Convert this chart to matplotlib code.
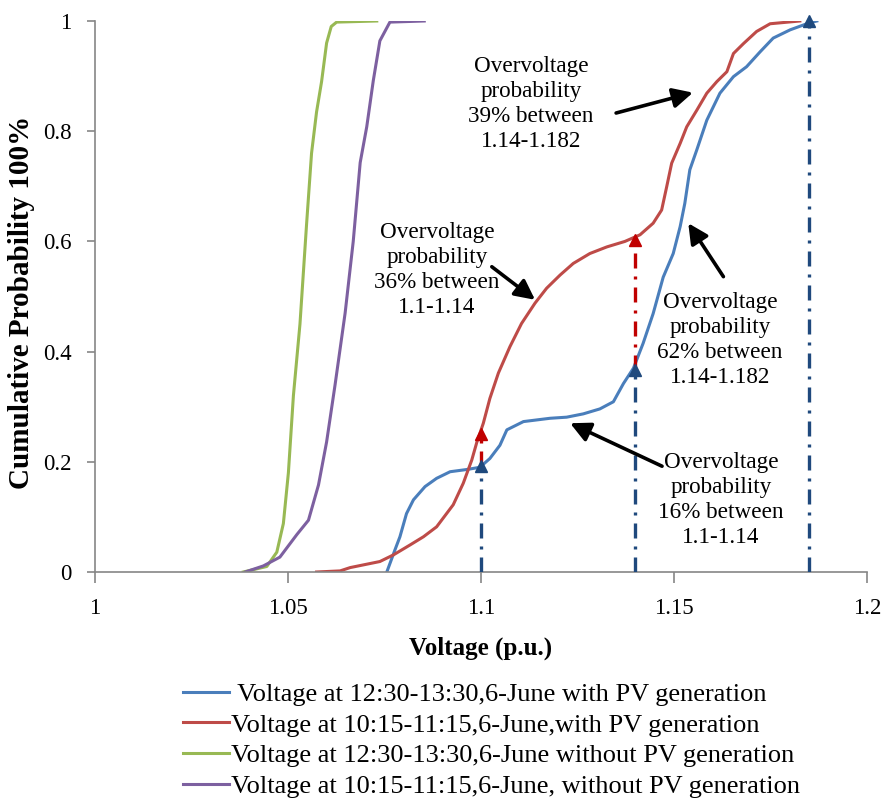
import matplotlib
matplotlib.use("Agg")
import matplotlib.pyplot as plt

plt.rcParams['font.family'] = ['Liberation Serif', 'DejaVu Serif']

# ---------------- data ----------------
blue_v = [1.0756, 1.0777, 1.0790, 1.0807, 1.0825, 1.0855, 1.0885, 1.0920, 1.0963, 1.0997,
          1.1023, 1.1049, 1.1067, 1.1110, 1.1179, 1.1222, 1.1265, 1.1308, 1.1343, 1.1369,
          1.1395, 1.1420, 1.1446, 1.1472, 1.1498, 1.1516, 1.1528, 1.1541, 1.1559, 1.1585,
          1.1619, 1.1654, 1.1688, 1.1723, 1.1757, 1.1801, 1.1852, 1.1870]
blue_p = [0.0, 0.04, 0.064, 0.106, 0.131, 0.155, 0.17, 0.182, 0.186, 0.19,
          0.206, 0.23, 0.258, 0.273, 0.279, 0.281, 0.287, 0.296, 0.309, 0.342,
          0.37, 0.415, 0.469, 0.535, 0.578, 0.627, 0.669, 0.73, 0.766, 0.82,
          0.869, 0.899, 0.917, 0.944, 0.969, 0.984, 0.997, 1.0]

red_v = [1.0574, 1.0635, 1.0661, 1.0738, 1.0773, 1.0816, 1.0851, 1.0885, 1.0928, 1.0954,
         1.0976, 1.0989, 1.1006, 1.1023, 1.1045, 1.1075, 1.1105, 1.1140, 1.1170, 1.1205,
         1.1239, 1.1282, 1.1326, 1.1373, 1.1412, 1.1446, 1.1468, 1.1481, 1.1494, 1.1516,
         1.1533, 1.1559, 1.1585, 1.1611, 1.1637, 1.1654, 1.1680, 1.1714, 1.1749, 1.1826]
red_p = [0.0, 0.002, 0.008, 0.019, 0.031, 0.049, 0.064, 0.082, 0.122, 0.161,
         0.203, 0.235, 0.27, 0.315, 0.361, 0.409, 0.451, 0.488, 0.515, 0.539,
         0.56, 0.578, 0.59, 0.6, 0.612, 0.633, 0.657, 0.699, 0.742, 0.778,
         0.808, 0.838, 0.869, 0.89, 0.908, 0.941, 0.959, 0.981, 0.995, 1.0]

green_v = [1.0384, 1.0445, 1.0471, 1.0488, 1.0501, 1.0514, 1.0531, 1.0548, 1.0561, 1.0574,
           1.0587, 1.0600, 1.0612, 1.0626, 1.0730]
green_p = [0.0, 0.01, 0.036, 0.088, 0.18, 0.32, 0.45, 0.63, 0.76, 0.835,
           0.89, 0.96, 0.99, 0.998, 1.0]

purple_v = [1.0389, 1.0436, 1.0479, 1.0523, 1.0553, 1.0579, 1.0600, 1.0622, 1.0648, 1.0669,
            1.0687, 1.0704, 1.0721, 1.0738, 1.0764, 1.0853]
purple_p = [0.0, 0.011, 0.027, 0.068, 0.094, 0.158, 0.236, 0.34, 0.47, 0.6,
            0.743, 0.808, 0.892, 0.964, 0.998, 1.0]

legend_labels = [" Voltage at 12:30-13:30,6-June with PV generation",
                 "Voltage at 10:15-11:15,6-June,with PV generation",
                 "Voltage at 12:30-13:30,6-June without PV generation",
                 "Voltage at 10:15-11:15,6-June, without PV generation"]

# marker lines: (voltage, p_from, p_to)
blue_marks = [(1.1, 0.0, 0.193), (1.14, 0.0, 0.366), (1.185, 0.0, 1.0)]
red_marks = [(1.1, 0.193, 0.25), (1.14, 0.366, 0.603)]

annotations = [
    ("Overvoltage\nprobability\n39% between\n1.14-1.182", (1.1130, 0.849), (1.1350, 0.833), (1.1549, 0.870)),
    ("Overvoltage\nprobability\n36% between\n1.1-1.14", (1.0886, 0.548), (1.1028, 0.554), (1.1140, 0.494)),
    ("Overvoltage\nprobability\n62% between\n1.14-1.182", (1.1619, 0.421), (1.1628, 0.536), (1.1537, 0.633)),
    ("Overvoltage\nprobability\n16% between\n1.1-1.14", (1.1622, 0.131), (1.1469, 0.192), (1.1231, 0.270)),
]

xticks = [1.0, 1.05, 1.1, 1.15, 1.2]
xticklabels = ["1", "1.05", "1.1", "1.15", "1.2"]
yticks = [0, 0.2, 0.4, 0.6, 0.8, 1.0]
yticklabels = ["0", "0.2", "0.4", "0.6", "0.8", "1"]

# ---------------- figure ----------------
W, H = 885, 811
fig = plt.figure(figsize=(W/100, H/100), dpi=100)
ax = fig.add_axes([95/W, 1 - 572/H, (867-95)/W, (572-21)/H])

c_blue, c_red, c_green, c_purple = "#4A7EBB", "#BE4B48", "#98B954", "#7D60A0"
lw = 2.2
l1, = ax.plot(blue_v, blue_p, color=c_blue, lw=lw)
l2, = ax.plot(red_v, red_p, color=c_red, lw=lw)
l3, = ax.plot(green_v, green_p, color=c_green, lw=lw)
l4, = ax.plot(purple_v, purple_p, color=c_purple, lw=lw)

dd = (0, (4.5, 2.4, 0.9, 2.4))
for v, a, b in blue_marks:
    ax.plot([v, v], [a, b], color="#1F497D", lw=2.4, linestyle=dd, zorder=3)
    ax.plot([v], [b], marker="^", color="#1F497D", markersize=9, zorder=4, clip_on=False)
for v, a, b in red_marks:
    ax.plot([v, v], [a, b], color="#C00000", lw=2.4, linestyle=dd, zorder=3)
    ax.plot([v], [b], marker="^", color="#C00000", markersize=9, zorder=4, clip_on=False)

for txt, tpos, tail, head in annotations:
    ax.text(tpos[0], tpos[1], txt, ha="center", va="center", fontsize=16.7,
            linespacing=1.25, zorder=5)
    ax.annotate("", xy=head, xytext=tail,
                arrowprops=dict(arrowstyle="-|>,head_length=0.6,head_width=0.3",
                                color="black", lw=2.6, shrinkA=0, shrinkB=0,
                                mutation_scale=20), zorder=6)

ax.set_xlim(1.0, 1.2)
ax.set_ylim(0, 1.0)
ax.set_xticks(xticks)
ax.set_xticklabels(xticklabels)
ax.set_yticks(yticks)
ax.set_yticklabels(yticklabels)
ax.tick_params(axis="both", labelsize=16.5, color="#868686", direction="out")
ax.tick_params(axis="x", length=8, width=1.2, pad=11)
ax.tick_params(axis="y", length=6, width=1.2, pad=11)
for s in ["top", "right"]:
    ax.spines[s].set_visible(False)
for s in ["left", "bottom"]:
    ax.spines[s].set_color("#868686")
    ax.spines[s].set_linewidth(1.2)

fig.text(481/W, 1 - 648/H, "Voltage (p.u.)", fontsize=18, fontweight="bold",
         ha="center", va="center")
fig.text(22/W, 1 - 302/H, "Cumulative Probability 100%", fontsize=21,
         fontweight="bold", rotation=90, ha="center", va="center")

fig.legend([l1, l2, l3, l4], legend_labels, loc="upper left",
           bbox_to_anchor=(172/W, 1 - 672/H), frameon=False, fontsize=19,
           handlelength=1.75, handletextpad=0.1, labelspacing=0.27, borderaxespad=0)

fig.savefig("out.png", dpi=100)
